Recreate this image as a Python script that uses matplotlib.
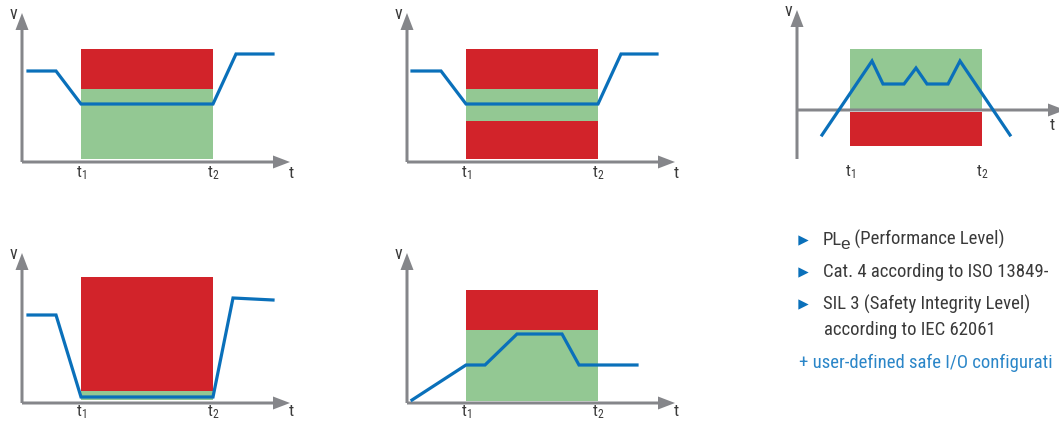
import matplotlib
matplotlib.use("Agg")
import matplotlib.pyplot as plt
from matplotlib import font_manager as fm

# ---------------- data (units: pixels relative to each panel's origin) ----------------
# panel 1 (top-left): velocity must stay below limit between t1 and t2
p1_t = [6, 34, 59, 191, 214, 251]
p1_v = [91, 91, 58, 58, 108, 108]
p1_bands = [(3, 73, "green"), (73, 113, "red")]

# panel 2 (top-middle): velocity window
p2_t = [5, 34, 59, 191, 214, 250]
p2_v = [91, 91, 58, 58, 108, 108]
p2_bands = [(3, 41, "red"), (41, 73, "green"), (73, 113, "red")]

# panel 3 (top-right): direction monitoring
p3_t = [25, 75, 86, 107, 119, 130, 151, 163, 213]
p3_v = [-25, 49, 26, 26, 42, 26, 26, 49, -25]
p3_bands = [(0, 61, "green"), (-36, -2, "red")]

# panel 4 (bottom-left): standstill monitoring
p4_t = [6, 34, 59, 191, 211, 251]
p4_v = [88, 88, 6, 6, 105, 103]
p4_bands = [(3, 12, "green"), (12, 126, "red")]

# panel 5 (bottom-middle): safely limited speed
p5_t = [5, 59, 78, 110, 155, 172, 230]
p5_v = [3, 38, 38, 69, 69, 38, 38]
p5_bands = [(2, 73, "green"), (73, 113, "red")]

box_t1 = [59, 59, 53, 59, 59]
box_t2 = [191, 191, 185, 191, 191]

bullet_lines = ["PL", "Cat. 4 according to ISO 13849-", "SIL 3 (Safety Integrity Level)"]
extra_line = "according to IEC 62061"
plus_line = "+ user-defined safe I/O configurati"

# ---------------- style ----------------
RED = "#D2232A"
GREEN = "#93C893"
BLUE = "#0A70BA"
GRAY = "#85868A"
TEXT = "#3A3A3A"
LINKBLUE = "#2B86C8"
COL = {"red": RED, "green": GREEN}

names = {f.name for f in fm.fontManager.ttflist}
FONT = "Liberation Sans"
for cand in ["Liberation Sans Narrow", "Roboto Condensed", "Open Sans Condensed", "Liberation Sans"]:
    if cand in names:
        FONT = cand
        break
plt.rcParams["font.family"] = [FONT, "DejaVu Sans"]
plt.rcParams["mathtext.fontset"] = "custom"
plt.rcParams["mathtext.rm"] = FONT

W, H = 1059, 421
fig = plt.figure(figsize=(W / 100, H / 100), dpi=100)

# panel: (origin x px, origin y px, t data, v data, bands, t1, t2, y-axis bottom, y tip, x tip, label offset)
panels = [
    (22, 162, p1_t, p1_v, p1_bands, box_t1[0], box_t2[0], 0, 149, 268, -11),
    (407, 162, p2_t, p2_v, p2_bands, box_t1[1], box_t2[1], 0, 149, 268, -11),
    (797, 110, p3_t, p3_v, p3_bands, box_t1[2], box_t2[2], -49, 100, 268, -62),
    (22, 403, p4_t, p4_v, p4_bands, box_t1[3], box_t2[3], 0, 150, 268, -9),
    (407, 403, p5_t, p5_v, p5_bands, box_t1[4], box_t2[4], 0, 150, 268, -9),
]

for ox, oy, t, v, bands, t1, t2, ybot, ytip, xtip, lab_y in panels:
    x0, x1 = -25, 290
    y0, y1 = -75, 160
    ax = fig.add_axes([(ox + x0) / W, 1 - (oy - y0) / H, (x1 - x0) / W, (y1 - y0) / H])
    ax.set_xlim(x0, x1)
    ax.set_ylim(y0, y1)
    ax.axis("off")
    for lo, hi, c in bands:
        ax.bar(t1, hi - lo, bottom=lo, width=t2 - t1, align="edge", color=COL[c], linewidth=0, zorder=1)
    ax.arrow(0, 0, xtip, 0, width=3, head_width=13, head_length=17, length_includes_head=True,
             color=GRAY, linewidth=0, zorder=2, clip_on=False)
    ax.arrow(0, ybot, 0, ytip - ybot, width=3, head_width=13, head_length=17, length_includes_head=True,
             color=GRAY, linewidth=0, zorder=2, clip_on=False)
    ax.plot(t, v, color=BLUE, lw=2.3, solid_joinstyle="miter", zorder=3, clip_on=False)
    ax.text(t1, lab_y, r"$\mathregular{t_1}$", ha="center", va="center", fontsize=12, color=TEXT)
    ax.text(t2, lab_y, r"$\mathregular{t_2}$", ha="center", va="center", fontsize=12, color=TEXT)
    ax.text(-9, ytip - 1, "v", ha="center", va="center", fontsize=13, color=TEXT)
    if ybot < 0:
        ax.text(xtip - 13, -15, "t", ha="center", va="center", fontsize=12.5, color=TEXT, clip_on=False)
    else:
        ax.text(xtip + 1, lab_y, "t", ha="center", va="center", fontsize=12.5, color=TEXT, clip_on=False)

# right-hand text block
tx = fig.add_axes([0, 0, 1, 1])
tx.set_xlim(0, W)
tx.set_ylim(H, 0)
tx.axis("off")
bullet_y = [240, 272, 304]
tx.scatter([803] * 3, bullet_y, marker=">", s=55, color=BLUE, linewidths=0)
fs = 13.5
t0 = tx.text(823, bullet_y[0], bullet_lines[0], ha="left", va="center", fontsize=fs, color=TEXT)
t_e = tx.annotate("e", xy=(1, 0), xycoords=t0, xytext=(-1.5, -2.5), textcoords="offset points",
                  ha="left", va="bottom", fontsize=fs - 1, color=TEXT, family="Liberation Sans")
tx.annotate(" (Performance Level)", xy=(1, 0), xycoords=t_e, xytext=(0, 2.5), textcoords="offset points",
            ha="left", va="bottom", fontsize=fs, color=TEXT)
tx.text(823, bullet_y[1], bullet_lines[1], ha="left", va="center", fontsize=fs, color=TEXT)
tx.text(823, bullet_y[2], bullet_lines[2], ha="left", va="center", fontsize=fs, color=TEXT)
tx.text(824, 330, extra_line, ha="left", va="center", fontsize=fs, color=TEXT)
tx.text(799, 363, plus_line, ha="left", va="center", fontsize=fs, color=LINKBLUE)

fig.savefig("out.png", dpi=100)
